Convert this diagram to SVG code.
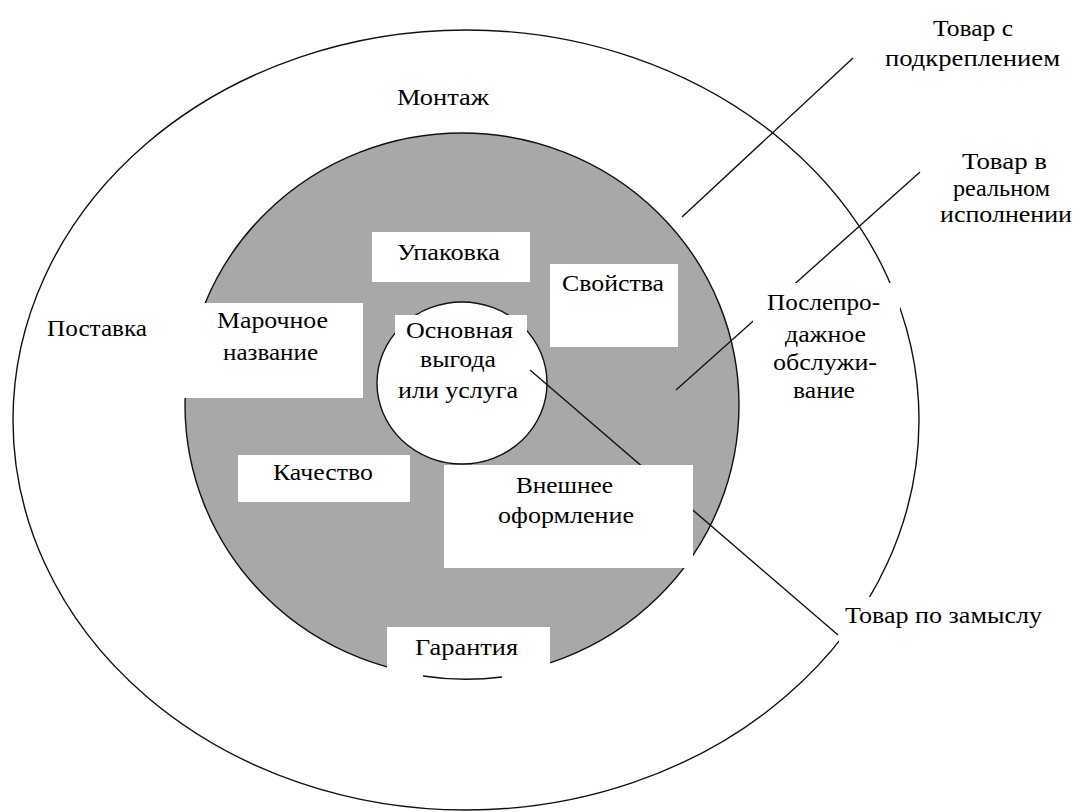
<svg xmlns="http://www.w3.org/2000/svg" width="1074" height="812" viewBox="0 0 1074 812">
<style>
.ln{fill:none;stroke:#111;stroke-width:1.4}
.box{fill:#fff;stroke:none}
.t{font-family:"Liberation Serif","DejaVu Serif","Times New Roman",serif;font-size:24px;fill:#000;text-anchor:middle}
</style>
<rect x="0" y="0" width="1074" height="812" fill="#fff"/>
<g id="outer-ring">
<ellipse cx="466" cy="420" rx="453" ry="390" class="ln"/>
</g>
<g id="middle-ring">
<ellipse cx="462" cy="405" rx="277" ry="272" fill="#a8a8a8" stroke="#111" stroke-width="1.4"/>
</g>
<g id="core">
<ellipse cx="462" cy="383" rx="85" ry="81" fill="#fff" stroke="#111" stroke-width="1.4"/>
</g>
<g id="connectors">
<line x1="853" y1="58" x2="682" y2="217" class="ln"/>
<line x1="920" y1="172" x2="676" y2="390" class="ln"/>
<line x1="530" y1="370" x2="838" y2="635" class="ln"/>
</g>
<g id="node-montazh"><text class="t" x="443" y="105" textLength="92" lengthAdjust="spacingAndGlyphs">Монтаж</text></g>
<g id="node-postavka"><text class="t" x="97" y="336" textLength="100" lengthAdjust="spacingAndGlyphs">Поставка</text></g>
<g id="node-upakovka">
<rect class="box" x="372" y="232" width="158" height="50"/>
<text class="t" x="448.5" y="260" textLength="103" lengthAdjust="spacingAndGlyphs">Упаковка</text>
</g>
<g id="node-svoystva">
<rect class="box" x="550" y="264" width="128" height="83"/>
<text class="t" x="613" y="291" textLength="102" lengthAdjust="spacingAndGlyphs">Свойства</text>
</g>
<g id="node-brand">
<rect class="box" x="182" y="303" width="181" height="95"/>
<text class="t" x="272.5" y="328" textLength="111" lengthAdjust="spacingAndGlyphs">Марочное</text>
<text class="t" x="270.5" y="360" textLength="95" lengthAdjust="spacingAndGlyphs">название</text>
</g>
<g id="node-core">
<rect class="box" x="395" y="315" width="132" height="95"/>
<text class="t" x="459.5" y="338" textLength="107" lengthAdjust="spacingAndGlyphs">Основная</text>
<text class="t" x="458" y="367" textLength="76" lengthAdjust="spacingAndGlyphs">выгода</text>
<text class="t" x="458" y="398" textLength="120" lengthAdjust="spacingAndGlyphs">или услуга</text>
</g>
<g id="node-kachestvo">
<rect class="box" x="238" y="455" width="172" height="47"/>
<text class="t" x="323" y="480" textLength="100" lengthAdjust="spacingAndGlyphs">Качество</text>
</g>
<g id="node-design">
<rect class="box" x="444" y="465" width="249" height="103"/>
<text class="t" x="564.5" y="493" textLength="97" lengthAdjust="spacingAndGlyphs">Внешнее</text>
<text class="t" x="566" y="523" textLength="136" lengthAdjust="spacingAndGlyphs">оформление</text>
</g>
<g id="node-garantiya">
<rect class="box" x="387" y="627" width="163" height="63"/>
<text class="t" x="466.5" y="655" textLength="103" lengthAdjust="spacingAndGlyphs">Гарантия</text>
<path class="ln" d="M423 676 A277 272 0 0 0 502 677"/>
</g>
<g id="node-service">
<rect class="box" x="753" y="283" width="147" height="122"/>
<text class="t" x="823.5" y="310" textLength="113" lengthAdjust="spacingAndGlyphs">Послепро-</text>
<text class="t" x="825.5" y="342" textLength="81" lengthAdjust="spacingAndGlyphs">дажное</text>
<text class="t" x="825" y="370" textLength="104" lengthAdjust="spacingAndGlyphs">обслужи-</text>
<text class="t" x="824" y="398" textLength="62" lengthAdjust="spacingAndGlyphs">вание</text>
</g>
<g id="label-augmented">
<text class="t" x="973" y="36" textLength="80" lengthAdjust="spacingAndGlyphs">Товар с</text>
<text class="t" x="972.5" y="66" textLength="175" lengthAdjust="spacingAndGlyphs">подкреплением</text>
</g>
<g id="label-actual">
<text class="t" x="1004.5" y="169" textLength="85" lengthAdjust="spacingAndGlyphs">Товар в</text>
<text class="t" x="1001.5" y="196" textLength="97" lengthAdjust="spacingAndGlyphs">реальном</text>
<text class="t" x="1006" y="222" textLength="132" lengthAdjust="spacingAndGlyphs">исполнении</text>
</g>
<g id="label-core">
<rect class="box" x="839" y="597" width="215" height="49"/>
<text class="t" x="943.5" y="623" textLength="197" lengthAdjust="spacingAndGlyphs">Товар по замыслу</text>
</g>
</svg>
